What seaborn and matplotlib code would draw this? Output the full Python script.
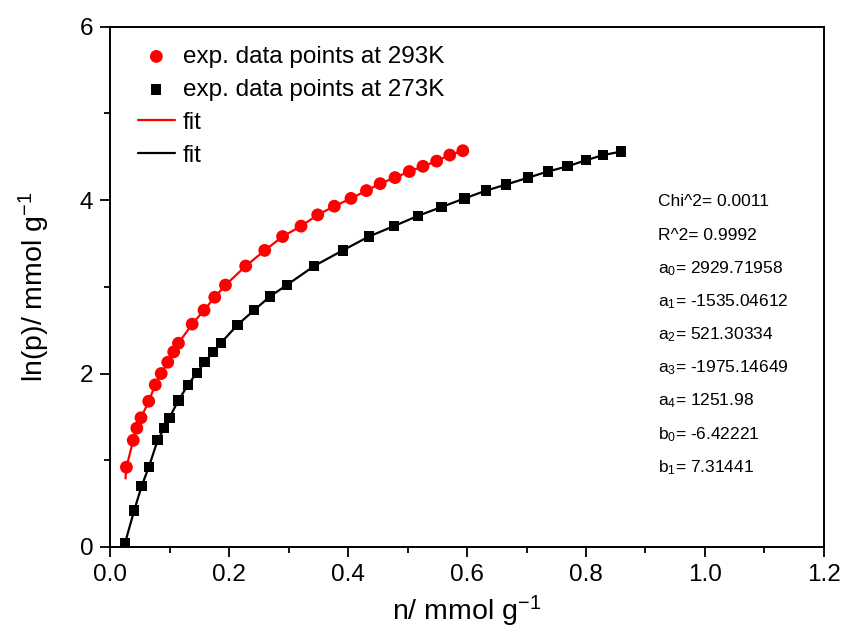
import numpy as np
import pandas as pd
import matplotlib
matplotlib.use("Agg")
import matplotlib.pyplot as plt
import seaborn as sns
from matplotlib.ticker import MultipleLocator

# ---- data ----
n_293 = [0.0275, 0.039, 0.045, 0.052, 0.065, 0.076, 0.086, 0.097, 0.107, 0.115,
         0.138, 0.158, 0.176, 0.194, 0.228, 0.260, 0.290, 0.321, 0.349, 0.377,
         0.405, 0.431, 0.454, 0.479, 0.503, 0.526, 0.549, 0.571, 0.593]
lnp_293 = [0.92, 1.23, 1.37, 1.49, 1.68, 1.87, 2.00, 2.13, 2.25, 2.35,
           2.57, 2.73, 2.88, 3.02, 3.24, 3.42, 3.58, 3.70, 3.83, 3.93,
           4.02, 4.11, 4.19, 4.26, 4.33, 4.39, 4.45, 4.52, 4.57]

n_273 = [0.025, 0.0405, 0.053, 0.065, 0.080, 0.091, 0.0997, 0.115, 0.131, 0.146,
         0.159, 0.173, 0.186, 0.214, 0.242, 0.269, 0.297, 0.343, 0.391, 0.435,
         0.477, 0.518, 0.557, 0.596, 0.632, 0.666, 0.703, 0.736, 0.769, 0.800,
         0.829, 0.859]
lnp_273 = [0.04, 0.42, 0.70, 0.92, 1.23, 1.37, 1.49, 1.69, 1.87, 2.01,
           2.13, 2.25, 2.35, 2.56, 2.73, 2.89, 3.02, 3.24, 3.42, 3.58,
           3.70, 3.82, 3.92, 4.02, 4.11, 4.18, 4.26, 4.33, 4.39, 4.46,
           4.52, 4.56]

fit_n_293 = [0.026] + n_293
fit_lnp_293 = [0.79] + lnp_293
fit_n_273 = n_273
fit_lnp_273 = lnp_273

x_ticks = [0.0, 0.2, 0.4, 0.6, 0.8, 1.0, 1.2]
y_ticks = [0, 2, 4, 6]

fit_text = ["Chi^2= 0.0011", "R^2= 0.9992", "a$_0$= 2929.71958", "a$_1$= -1535.04612",
            "a$_2$= 521.30334", "a$_3$= -1975.14649", "a$_4$= 1251.98",
            "b$_0$= -6.42221", "b$_1$= 7.31441"]

# ---- style ----
sns.set_style("ticks")
plt.rcParams['font.family'] = ['Liberation Sans', 'DejaVu Sans']
plt.rcParams['mathtext.default'] = 'regular'
for k in ['text.color', 'axes.labelcolor', 'xtick.color', 'ytick.color',
          'xtick.labelcolor', 'ytick.labelcolor']:
    plt.rcParams[k] = 'black'

fig = plt.figure(figsize=(8.42, 6.36), dpi=100)
ax = fig.add_axes([0.1307, 0.140, 0.8479, 0.818])

d293 = pd.DataFrame({"n": n_293, "lnp": lnp_293})
d273 = pd.DataFrame({"n": n_273, "lnp": lnp_273})
f293 = pd.DataFrame({"n": fit_n_293, "lnp": fit_lnp_293})
f273 = pd.DataFrame({"n": fit_n_273, "lnp": fit_lnp_273})

sns.lineplot(data=f293, x="n", y="lnp", sort=False, color="#ff0000", lw=1.6,
             ax=ax, label="fit", zorder=2)
sns.lineplot(data=f273, x="n", y="lnp", sort=False, color="black", lw=1.6,
             ax=ax, label="fit", zorder=2)
sns.scatterplot(data=d293, x="n", y="lnp", color="#ff0000", marker="o", s=85,
                edgecolor="none", ax=ax, label="exp. data points at 293K", zorder=3)
sns.scatterplot(data=d273, x="n", y="lnp", color="black", marker="s", s=55,
                edgecolor="none", ax=ax, label="exp. data points at 273K", zorder=3)

ax.set_xlim(0, 1.2)
ax.set_ylim(0, 6)
ax.set_xticks(x_ticks)
ax.set_yticks(y_ticks)
ax.set_xticklabels([f"{v:.1f}" for v in x_ticks], fontsize=17.5)
ax.set_yticklabels([str(v) for v in y_ticks], fontsize=17.5)
ax.xaxis.set_minor_locator(MultipleLocator(0.1))
ax.yaxis.set_minor_locator(MultipleLocator(1))
ax.tick_params(which='major', direction='out', length=7, width=1.3, color='black', pad=5)
ax.tick_params(which='minor', direction='out', length=4, width=1.3, color='black')
for sp in ax.spines.values():
    sp.set_visible(True)
    sp.set_linewidth(1.4)
    sp.set_color('black')

ax.set_xlabel("n/ mmol g$^{-1}$", fontsize=20.5, labelpad=6, color='black')
ax.set_ylabel("ln(p)/ mmol g$^{-1}$", fontsize=20.5, labelpad=20, color='black')

handles, labels = ax.get_legend_handles_labels()
order = [2, 3, 0, 1]
leg = ax.legend([handles[i] for i in order], [labels[i] for i in order],
                loc="upper left", frameon=False, fontsize=17.5, handlelength=1.5,
                handletextpad=0.33, labelspacing=0.45, borderaxespad=0.0,
                bbox_to_anchor=(0.0257, 0.982))
for t in leg.get_texts():
    t.set_color('black')

for i, t in enumerate(fit_text):
    ax.text(0.921, 3.98 - i * 0.383, t, fontsize=12.5, ha='left', va='center',
            color='black')

fig.savefig("out.png", dpi=100)
